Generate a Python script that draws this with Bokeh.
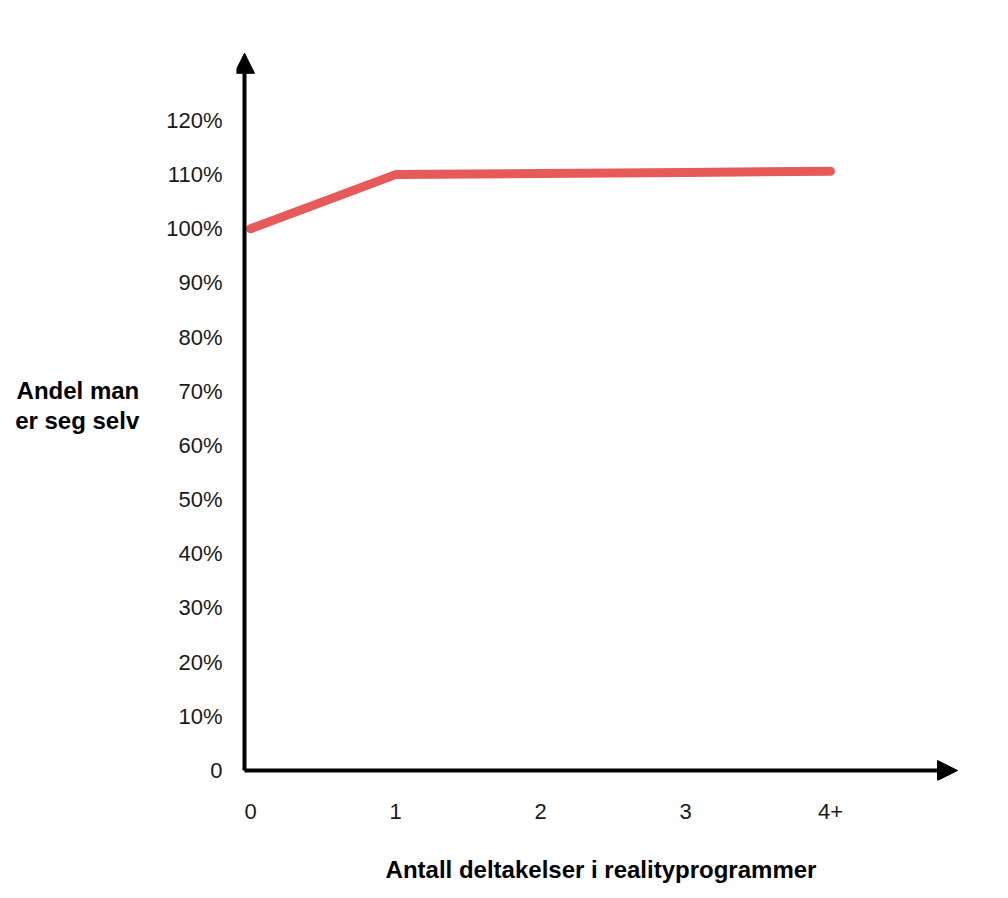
from bokeh.plotting import figure
from bokeh.models import Range1d, FixedTicker, Arrow, NormalHead
from bokeh.embed import file_html
from bokeh.resources import INLINE

# data lest av fra bildet
antall = ["0", "1", "2", "3", "4+"]
andel = [100, 110, 110.2, 110.4, 110.6]
y_ticks = [0, 10, 20, 30, 40, 50, 60, 70, 80, 90, 100, 110, 120]
y_tick_labels = ["0", "10%", "20%", "30%", "40%", "50%", "60%", "70%",
                 "80%", "90%", "100%", "110%", "120%"]

x = list(range(len(antall)))

# aksene (pilene) ligger litt innenfor rammen
ax_x, ax_y = -0.0414, 0
pil_x, pil_y = 4.876, 132.4

p = figure(width=1000, height=890, output_backend="svg", toolbar_location=None,
           x_range=Range1d(-0.0966, 4.931), y_range=Range1d(-1.846, 136.6),
           min_border_left=236, min_border_right=35, min_border_top=30, min_border_bottom=110)
p.outline_line_color = None
p.grid.visible = False
p.background_fill_color = "white"

# linja
p.line(x, andel, color="#e75a5a", line_width=9, line_cap="round", line_join="round")

# akser
p.xaxis.ticker = FixedTicker(ticks=x)
p.xaxis.major_label_overrides = dict(zip(x, antall))
p.yaxis.ticker = FixedTicker(ticks=y_ticks)
p.yaxis.major_label_overrides = dict(zip(y_ticks, y_tick_labels))
for ax in (p.xaxis[0], p.yaxis[0]):
    ax.axis_line_color = None
    ax.major_tick_line_color = None
    ax.minor_tick_line_color = None
    ax.major_tick_out = 0
    ax.major_label_text_font = "Liberation Sans"
    ax.major_label_text_font_size = "22px"
    ax.major_label_text_color = "#1a1a1a"
    ax.axis_label_text_font = "Liberation Sans"
    ax.axis_label_text_font_style = "bold"
    ax.axis_label_text_font_size = "24px"
    ax.axis_label_text_color = "black"
p.yaxis.major_label_standoff = 14
p.xaxis.major_label_standoff = 23

p.xaxis.axis_label = "Antall deltakelser i realityprogrammer"
p.xaxis.axis_label_standoff = 34

p.yaxis.axis_label = "Andel man\ner seg selv"
p.yaxis.axis_label_orientation = "horizontal"
p.yaxis.axis_label_standoff = 24
p.yaxis.axis_label_text_line_height = 1.1

# piler
p.add_layout(Arrow(end=NormalHead(size=20, fill_color="black", line_color="black"),
                   x_start=ax_x, y_start=ax_y, x_end=ax_x, y_end=pil_y,
                   line_width=4, line_color="black"))
p.add_layout(Arrow(end=NormalHead(size=20, fill_color="black", line_color="black"),
                   x_start=ax_x, y_start=ax_y, x_end=pil_x, y_end=ax_y,
                   line_width=4, line_color="black"))

open("out.html", "w").write(file_html(p, INLINE))
